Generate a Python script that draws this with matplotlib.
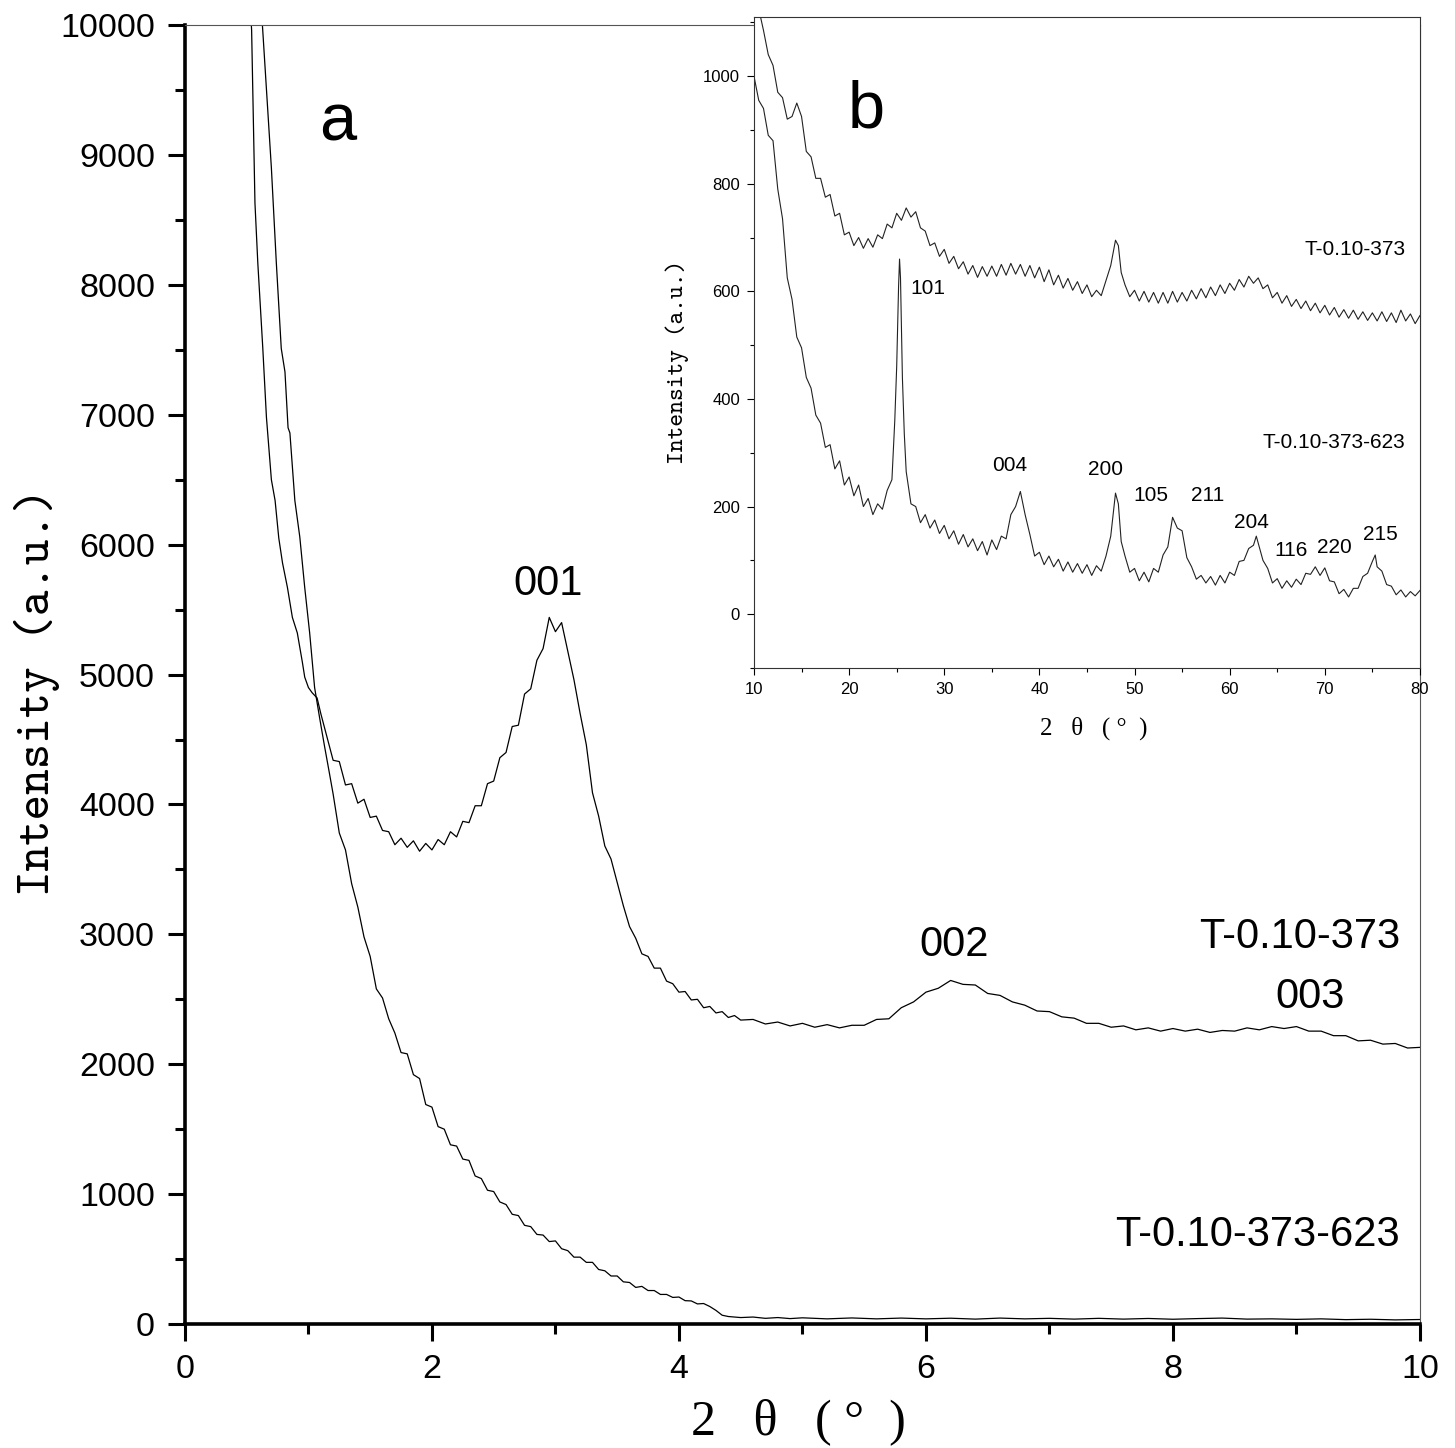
import matplotlib
matplotlib.use("Agg")
import matplotlib.pyplot as plt
from matplotlib.ticker import MultipleLocator

plt.rcParams['font.family'] = ['Liberation Sans', 'DejaVu Sans']
YLABEL_FONT = ['cmtt10', 'DejaVu Serif']
XLABEL_FONT = ['Liberation Serif', 'DejaVu Serif']

# ---- main panel (a): low angle scans ----
x_373 = [0.52, 0.54, 0.567, 0.59, 0.63, 0.66, 0.70, 0.73, 0.76, 0.79, 0.83, 0.87, 0.91, 0.95, 0.97,
         1.00, 1.03, 1.07, 1.10, 1.15, 1.20, 1.25, 1.30, 1.35, 1.40, 1.45, 1.50, 1.55, 1.60, 1.65,
         1.70, 1.75, 1.80, 1.85, 1.90, 1.95, 2.00, 2.05, 2.10, 2.15, 2.20, 2.25, 2.30, 2.35, 2.40,
         2.45, 2.50, 2.55, 2.60, 2.65, 2.70, 2.75, 2.80, 2.85, 2.90, 2.95, 3.00, 3.05, 3.10, 3.15,
         3.20, 3.25, 3.30, 3.35, 3.40, 3.45, 3.50, 3.55, 3.60, 3.65, 3.70, 3.75, 3.80, 3.85, 3.90,
         3.95, 4.00, 4.05, 4.10, 4.15, 4.20, 4.25, 4.30, 4.35, 4.40, 4.45, 4.50, 4.6, 4.7, 4.8,
         4.9, 5.0, 5.1, 5.2, 5.3, 5.4, 5.5, 5.6, 5.7, 5.8, 5.9, 6.0, 6.1, 6.2, 6.3, 6.4, 6.5, 6.6,
         6.7, 6.8, 6.9, 7.0, 7.1, 7.2, 7.3, 7.4, 7.5, 7.6, 7.7, 7.8, 7.9, 8.0, 8.1, 8.2, 8.3, 8.4,
         8.5, 8.6, 8.7, 8.8, 8.9, 9.0, 9.1, 9.2, 9.3, 9.4, 9.5, 9.6, 9.7, 9.8, 9.9, 10.0]
y_373 = [10300, 9960, 8630, 8170, 7520, 6980, 6500, 6340, 6050, 5860, 5670, 5440, 5320, 5100, 4980,
         4900, 4860, 4820, 4700, 4520, 4340, 4330, 4150, 4160, 4010, 4040, 3900, 3910, 3800, 3790,
         3690, 3740, 3670, 3720, 3640, 3700, 3650, 3730, 3690, 3790, 3750, 3870, 3860, 3990, 3990,
         4160, 4180, 4360, 4400, 4600, 4610, 4850, 4890, 5110, 5200, 5440, 5330, 5400, 5180, 4960,
         4700, 4460, 4090, 3910, 3680, 3580, 3400, 3220, 3060, 2970, 2850, 2830, 2740, 2740, 2640,
         2620, 2555, 2560, 2495, 2500, 2435, 2445, 2395, 2405, 2360, 2375, 2340, 2345, 2310, 2325,
         2295, 2315, 2285, 2305, 2280, 2300, 2300, 2345, 2350, 2435, 2480, 2555, 2585, 2645, 2615,
         2610, 2545, 2530, 2480, 2455, 2410, 2405, 2365, 2355, 2315, 2315, 2285, 2295, 2265, 2280,
         2255, 2275, 2255, 2270, 2245, 2260, 2255, 2280, 2265, 2290, 2275, 2290, 2255, 2255, 2220,
         2220, 2180, 2185, 2155, 2160, 2125, 2130]

x_623 = [0.60, 0.63, 0.70, 0.74, 0.78, 0.81, 0.835, 0.85, 0.89, 0.93, 0.97, 1.01, 1.05, 1.09, 1.13,
         1.17, 1.20, 1.25, 1.30, 1.35, 1.40, 1.45, 1.50, 1.55, 1.60, 1.65, 1.70, 1.75, 1.80, 1.85,
         1.90, 1.95, 2.00, 2.05, 2.10, 2.15, 2.20, 2.25, 2.30, 2.35, 2.40, 2.45, 2.50, 2.55, 2.60,
         2.65, 2.70, 2.75, 2.80, 2.85, 2.90, 2.95, 3.00, 3.05, 3.10, 3.15, 3.20, 3.25, 3.30, 3.35,
         3.40, 3.45, 3.50, 3.55, 3.60, 3.65, 3.70, 3.75, 3.80, 3.85, 3.90, 3.95, 4.00, 4.05, 4.10,
         4.15, 4.20, 4.25, 4.30, 4.35, 4.40, 4.5, 4.6, 4.7, 4.8, 4.9, 5.0, 5.2, 5.4, 5.6, 5.8, 6.0,
         6.2, 6.4, 6.6, 6.8, 7.0, 7.2, 7.4, 7.6, 7.8, 8.0, 8.2, 8.4, 8.6, 8.8, 9.0, 9.2, 9.4, 9.6,
         9.8, 10.0]
y_623 = [10400, 9960, 8900, 8170, 7510, 7330, 6900, 6860, 6340, 6060, 5670, 5320, 4900, 4670, 4450,
         4240, 4080, 3780, 3650, 3390, 3210, 2980, 2830, 2580, 2510, 2350, 2240, 2090, 2080, 1920,
         1890, 1690, 1670, 1520, 1500, 1380, 1370, 1270, 1260, 1140, 1120, 1030, 1020, 940, 920,
         845, 835, 760, 750, 690, 685, 635, 640, 580, 565, 515, 515, 475, 475, 420,
         410, 370, 370, 325, 320, 282, 290, 258, 258, 228, 228, 205, 208, 180, 178,
         155, 158, 135, 105, 68, 58, 50, 54, 44, 50, 42, 48, 40, 47, 40, 46, 40,
         45, 38, 46, 40, 44, 38, 44, 38, 43, 37, 42, 46, 38, 40, 36, 40, 34, 37,
         32, 35]

# ---- inset (b): wide angle scans ----
xb_373 = [10.5, 11.0, 11.5, 12.0, 12.5, 13.0, 13.5, 14.0, 14.5, 15.0, 15.5, 16.0, 16.5, 17.0, 17.5,
          18.0, 18.5, 19.0, 19.5, 20.0, 20.5, 21.0, 21.5, 22.0, 22.5, 23.0, 23.5, 24.0, 24.5, 25.0,
          25.5, 26.0, 26.5, 27.0, 27.5, 28.0, 28.5, 29.0, 29.5, 30.0, 30.5, 31.0, 31.5, 32.0, 32.5,
          33.0, 33.5, 34.0, 34.5, 35.0, 35.5, 36.0, 36.5, 37.0, 37.5, 38.0, 38.5, 39.0, 39.5, 40.0,
          40.5, 41.0, 41.5, 42.0, 42.5, 43.0, 43.5, 44.0, 44.5, 45.0, 45.5, 46.0, 46.5, 47.0, 47.5,
          48.0, 48.3, 48.6, 49.0, 49.5, 50.0, 50.5, 51.0, 51.5, 52.0, 52.5, 53.0, 53.5, 54.0, 54.5,
          55.0, 55.5, 56.0, 56.5, 57.0, 57.5, 58.0, 58.5, 59.0, 59.5, 60.0, 60.5, 61.0, 61.5, 62.0,
          62.5, 63.0, 63.5, 64.0, 64.5, 65.0, 65.5, 66.0, 66.5, 67.0, 67.5, 68.0, 68.5, 69.0, 69.5,
          70.0, 70.5, 71.0, 71.5, 72.0, 72.5, 73.0, 73.5, 74.0, 74.5, 75.0, 75.5, 76.0, 76.5, 77.0,
          77.5, 78.0, 78.5, 79.0, 79.5, 80.0]
yb_373 = [1125, 1085, 1040, 1020, 970, 960, 920, 925, 950, 925, 860, 850, 810, 810, 775,
          780, 740, 745, 705, 710, 685, 700, 680, 698, 682, 705, 698, 725, 718, 745,
          732, 755, 738, 748, 718, 712, 685, 690, 665, 678, 652, 665, 642, 655, 632,
          648, 626, 646, 628, 647, 628, 650, 630, 652, 632, 650, 628, 648, 625, 645,
          618, 640, 612, 630, 606, 624, 602, 618, 596, 612, 590, 602, 592, 620, 648,
          695, 685, 635, 612, 590, 602, 582, 600, 580, 598, 578, 598, 578, 600, 580,
          598, 582, 602, 586, 605, 588, 608, 592, 612, 596, 615, 602, 622, 608, 628,
          615, 625, 605, 612, 588, 598, 578, 592, 572, 585, 568, 582, 564, 578, 560,
          574, 556, 570, 552, 566, 550, 565, 548, 562, 546, 560, 545, 562, 544, 560,
          542, 565, 545, 558, 540, 555]

xb_623 = [10.0, 10.5, 11.0, 11.5, 12.0, 12.5, 13.0, 13.5, 14.0, 14.5, 15.0, 15.5, 16.0, 16.5, 17.0,
          17.5, 18.0, 18.5, 19.0, 19.5, 20.0, 20.5, 21.0, 21.5, 22.0, 22.5, 23.0, 23.5, 24.0, 24.5,
          24.8, 25.0, 25.2, 25.3, 25.4, 25.6, 25.8, 26.0, 26.5, 27.0, 27.5, 28.0, 28.5, 29.0, 29.5,
          30.0, 30.5, 31.0, 31.5, 32.0, 32.5, 33.0, 33.5, 34.0, 34.5, 35.0, 35.5, 36.0, 36.5, 37.0,
          37.5, 38.0, 38.5, 39.0, 39.5, 40.0, 40.5, 41.0, 41.5, 42.0, 42.5, 43.0, 43.5, 44.0, 44.5,
          45.0, 45.5, 46.0, 46.5, 47.0, 47.5, 48.0, 48.3, 48.6, 49.0, 49.5, 50.0, 50.5, 51.0, 51.5,
          52.0, 52.5, 53.0, 53.5, 54.0, 54.5, 55.0, 55.5, 56.0, 56.5, 57.0, 57.5, 58.0, 58.5, 59.0,
          59.5, 60.0, 60.5, 61.0, 61.5, 62.0, 62.5, 62.8, 63.0, 63.5, 64.0, 64.5, 65.0, 65.5, 66.0,
          66.5, 67.0, 67.5, 68.0, 68.5, 69.0, 69.5, 70.0, 70.5, 71.0, 71.5, 72.0, 72.5, 73.0, 73.5,
          74.0, 74.5, 75.0, 75.3, 75.5, 76.0, 76.5, 77.0, 77.5, 78.0, 78.5, 79.0, 79.5, 80.0]
yb_623 = [1000, 955, 940, 890, 880, 790, 735, 625, 585, 515, 495, 440, 420, 370, 355,
          310, 315, 270, 285, 240, 255, 220, 240, 200, 215, 185, 205, 195, 230, 250,
          360, 460, 610, 660, 625, 440, 335, 265, 205, 200, 170, 185, 160, 175, 150,
          165, 140, 155, 130, 148, 125, 140, 118, 135, 110, 138, 120, 145, 140, 185,
          200, 228, 185, 148, 108, 115, 92, 108, 88, 102, 80, 97, 78, 94, 76,
          92, 72, 90, 80, 108, 145, 225, 205, 135, 108, 78, 85, 62, 78, 60,
          85, 78, 110, 125, 180, 160, 155, 105, 88, 65, 72, 58, 70, 54, 72,
          58, 78, 72, 98, 100, 122, 128, 145, 132, 100, 85, 58, 66, 48, 62,
          50, 65, 55, 76, 74, 88, 72, 86, 62, 60, 38, 46, 32, 48, 48,
          70, 76, 98, 110, 88, 80, 55, 52, 36, 45, 32, 42, 34, 44]

main_peaks = ['001', '002', '003']
main_peak_pos = [(2.94, 5700), (6.23, 2920), (9.11, 2520)]
inset_peaks = ['101', '004', '200', '105', '211', '204', '116', '220', '215']
inset_peak_pos = [(28.3, 605), (36.9, 277), (47.0, 268), (51.7, 220), (57.7, 220),
                  (62.3, 171), (66.5, 119), (71.05, 124), (75.8, 148)]

fig = plt.figure(figsize=(14.55, 14.48), dpi=100)
ax = fig.add_axes([0.1271, 0.0856, 0.8488, 0.8971])

ax.plot(x_373, y_373, color='black', lw=0.9)
ax.plot(x_623, y_623, color='black', lw=0.9)
ax.set_xlim(0, 10)
ax.set_ylim(0, 10000)
ax.xaxis.set_major_locator(MultipleLocator(2))
ax.xaxis.set_minor_locator(MultipleLocator(1))
ax.yaxis.set_major_locator(MultipleLocator(1000))
ax.yaxis.set_minor_locator(MultipleLocator(500))
ax.tick_params(which='both', direction='out', top=False, right=False, width=2.2)
ax.tick_params(which='major', length=12.5, labelsize=24.5, pad=9)
ax.tick_params(which='minor', length=7)
for s in ['left', 'bottom']:
    ax.spines[s].set_linewidth(2.6)
for s in ['top', 'right']:
    ax.spines[s].set_linewidth(0.8)
    ax.spines[s].set_color('#555555')

# wide spacing mimics the half-width CJK serif used in the original
ax.set_xlabel('2   θ   ( °  )', family=XLABEL_FONT, fontsize=36, va='center')
ax.xaxis.set_label_coords(0.497, -0.0755)
ax.set_ylabel('Intensity (a.u.)', family=YLABEL_FONT, fontsize=35, va='center')
ax.yaxis.set_label_coords(-0.12, 0.487)

ax.text(1.24, 9245, 'a', fontsize=48, ha='center', va='center')
for lab, (px, py) in zip(main_peaks, main_peak_pos):
    ax.text(px, py, lab, fontsize=30, ha='center', va='center')
ax.text(9.84, 2980, 'T-0.10-373', fontsize=30, ha='right', va='center')
ax.text(9.84, 685, 'T-0.10-373-623', fontsize=30, ha='right', va='center')

# inset
axi = fig.add_axes([0.5182, 0.5387, 0.4577, 0.4496])
axi.plot(xb_373, yb_373, color='#222222', lw=0.8)
axi.plot(xb_623, yb_623, color='#222222', lw=0.8)
axi.set_xlim(10, 80)
axi.set_ylim(-100, 1110)
axi.xaxis.set_major_locator(MultipleLocator(10))
axi.xaxis.set_minor_locator(MultipleLocator(5))
axi.yaxis.set_major_locator(MultipleLocator(200))
axi.yaxis.set_minor_locator(MultipleLocator(100))
axi.tick_params(which='both', direction='out', top=False, right=False, width=0.8)
axi.tick_params(which='major', length=5, labelsize=12, pad=5)
axi.tick_params(which='minor', length=3)
for s in axi.spines.values():
    s.set_linewidth(0.8)
    s.set_color('#333333')

axi.set_xlabel('2   θ   ( °  )', family=XLABEL_FONT, fontsize=18, va='center')
axi.xaxis.set_label_coords(0.51, -0.092)
axi.set_ylabel('Intensity (a.u.)', family=YLABEL_FONT, fontsize=17.5, va='center')
axi.yaxis.set_label_coords(-0.115, 0.47)

axi.text(21.75, 936, 'b', fontsize=48, ha='center', va='center')
for lab, (px, py) in zip(inset_peaks, inset_peak_pos):
    axi.text(px, py, lab, fontsize=15, ha='center', va='center')
axi.text(78.5, 677, 'T-0.10-373', fontsize=15, ha='right', va='center')
axi.text(78.5, 319, 'T-0.10-373-623', fontsize=15, ha='right', va='center')

fig.savefig('out.png', dpi=100)
